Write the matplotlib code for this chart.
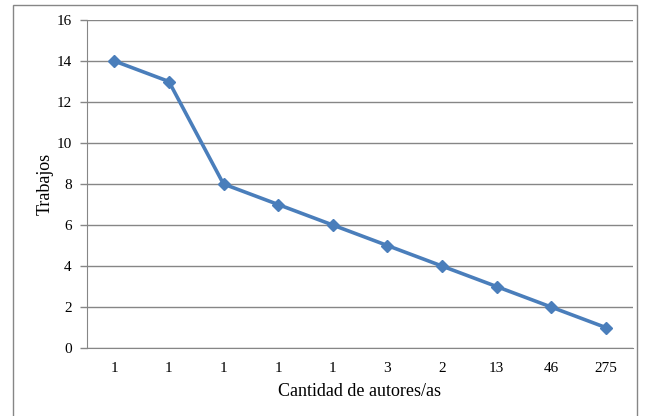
import matplotlib
matplotlib.use('Agg')
import matplotlib.pyplot as plt
from matplotlib.patches import Rectangle
import numpy as np

plt.rcParams['font.family'] = ['Liberation Serif', 'DejaVu Serif']

# datos
autores = ['1', '1', '1', '1', '1', '3', '2', '13', '46', '275']
trabajos = [14, 13, 8, 7, 6, 5, 4, 3, 2, 1]
yticks = [0, 2, 4, 6, 8, 10, 12, 14, 16]

W, H = 650, 416
fig = plt.figure(figsize=(6.5, 4.16), dpi=100)

# marco exterior (recortado abajo)
fig.patches.append(Rectangle((13 / W, -0.05), 624 / W, 1.05 - 5 / H,
                             transform=fig.transFigure, fill=False,
                             ec='#868686', lw=1.0))

ax = fig.add_axes([87 / W, 1 - 348 / H, (633 - 87) / W, (348 - 20) / H])
x = np.arange(len(autores))
ax.plot(x, trabajos, color='#4A7EBB', lw=2.6, marker='D', ms=6,
        mec='#4A7EBB', mfc='#4A7EBB')

ax.set_xlim(-0.5, len(autores) - 0.5)
ax.set_ylim(0, 16)
ax.set_yticks(yticks)
ax.set_xticks(x)
ax.set_xticklabels(autores)
ax.tick_params(axis='x', which='major', length=0, pad=10, labelsize=11)
ax.tick_params(axis='y', length=5, color='#868686', width=1, pad=6, labelsize=11)

ax.grid(axis='y', color='#868686', lw=1)
ax.set_axisbelow(True)
for s in ['top', 'right']:
    ax.spines[s].set_visible(False)
ax.spines['left'].set_color('#868686')
ax.spines['bottom'].set_color('#868686')

ax.set_xlabel('Cantidad de autores/as', fontsize=13, labelpad=6)
ax.set_ylabel('Trabajos', fontsize=13, labelpad=2)

fig.savefig('out.png', dpi=100)
